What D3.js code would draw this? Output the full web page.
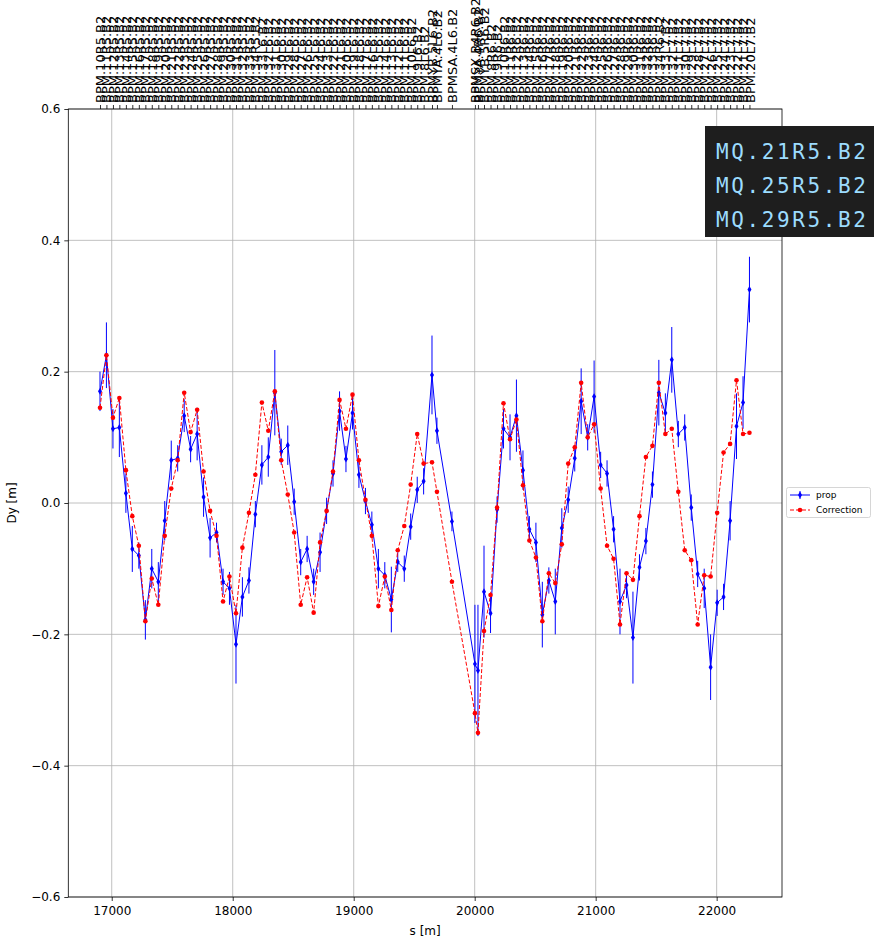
<!DOCTYPE html>
<html><head><meta charset="utf-8">
<script src="https://cdn.jsdelivr.net/npm/d3@7"></script>
<style>body{margin:0;background:#fff}svg{display:block}</style>
</head><body>
<script>
const bpmNames = [
"BPM.10R5.B2","BPM.11R5.B2","BPM.12R5.B2","BPM.13R5.B2","BPM.14R5.B2","BPM.15R5.B2","BPM.16R5.B2","BPM.17R5.B2","BPM.18R5.B2","BPM.19R5.B2",
"BPM.20R5.B2","BPM.21R5.B2","BPM.22R5.B2","BPM.23R5.B2","BPM.24R5.B2","BPM.25R5.B2","BPM.26R5.B2","BPM.27R5.B2","BPM.28R5.B2","BPM.29R5.B2",
"BPM.30R5.B2","BPM.31R5.B2","BPM.32R5.B2","BPM.33R5.B2","BPM.34R5.B2",
"BPM.33L6.B2","BPM.32L6.B2","BPM.31L6.B2","BPM.30L6.B2","BPM.29L6.B2","BPM.28L6.B2","BPM.27L6.B2","BPM.26L6.B2","BPM.25L6.B2","BPM.24L6.B2",
"BPM.23L6.B2","BPM.22L6.B2","BPM.21L6.B2","BPM.20L6.B2","BPM.19L6.B2","BPM.18L6.B2","BPM.17L6.B2","BPM.16L6.B2","BPM.15L6.B2","BPM.14L6.B2",
"BPM.13L6.B2","BPM.12L6.B2","BPM.11L6.B2","BPM.10L6.B2","BPM.9L6.B2","BPM.8L6.B2",
"BPMYB.5L6.B2","BPMYA.4L6.B2","BPMSA.4L6.B2","BPMSX.B4R6.B2","BPMYA.4R6.B2","BPMYB.5R6.B2",
"BPM.8R6.B2","BPM.9R6.B2","BPM.10R6.B2","BPM.11R6.B2","BPM.12R6.B2","BPM.13R6.B2","BPM.14R6.B2","BPM.15R6.B2","BPM.16R6.B2","BPM.17R6.B2",
"BPM.18R6.B2","BPM.19R6.B2","BPM.20R6.B2","BPM.21R6.B2","BPM.22R6.B2","BPM.23R6.B2","BPM.24R6.B2","BPM.25R6.B2","BPM.26R6.B2","BPM.27R6.B2",
"BPM.28R6.B2","BPM.29R6.B2","BPM.30R6.B2","BPM.31R6.B2","BPM.32R6.B2","BPM.33R6.B2","BPM.34R6.B2",
"BPM.33L7.B2","BPM.32L7.B2","BPM.31L7.B2","BPM.30L7.B2","BPM.29L7.B2","BPM.28L7.B2","BPM.27L7.B2","BPM.26L7.B2","BPM.25L7.B2","BPM.24L7.B2",
"BPM.23L7.B2","BPM.22L7.B2","BPM.21L7.B2","BPM.20L7.B2"];

const sPos = [
16903,16956,17010,17063,17117,17170,17224,17278,17331,17385,17438,17492,17545,17599,17652,17706,17759,17813,17866,17920,
17973,18027,18080,18134,18187,18241,18294,18348,18401,18455,18508,18562,18615,18669,18722,18776,18829,18883,18936,18990,
19043,19097,19150,19204,19257,19311,19364,19418,19471,19525,19578,
19647,19688,19812,20002,20027,20077,
20131,20185,20238,20292,20345,20399,20452,20506,20559,20613,20666,20720,20773,20827,20880,20934,20987,21041,21094,21148,
21201,21255,21308,21362,21415,21469,21522,21576,21629,21683,21736,21790,21843,21897,21950,22004,22057,22111,22164,22218,22271];

const propDy = [
0.17,0.225,0.113,0.115,0.015,-0.07,-0.08,-0.178,-0.10,-0.12,-0.027,0.065,0.068,0.133,0.082,0.105,0.009,-0.053,-0.045,-0.12,
-0.13,-0.215,-0.143,-0.118,-0.017,0.058,0.07,0.168,0.078,0.088,0.002,-0.09,-0.07,-0.12,-0.075,-0.012,0.045,0.14,0.067,0.137,
0.043,0.003,-0.033,-0.10,-0.11,-0.147,-0.09,-0.10,-0.036,0.02,0.033,
0.195,0.11,-0.028,-0.245,-0.255,-0.135,
-0.168,-0.01,0.113,0.10,0.133,0.05,-0.04,-0.06,-0.17,-0.118,-0.15,-0.038,0.005,0.068,0.155,0.10,0.162,0.058,0.045,-0.04,
-0.15,-0.125,-0.205,-0.098,-0.058,0.028,0.168,0.137,0.218,0.105,0.115,-0.007,-0.108,-0.13,-0.25,-0.152,-0.143,-0.027,0.117,0.153,0.325];

const propErr = [
0.03,0.05,0.03,0.045,0.03,0.035,0.02,0.03,0.03,0.03,0.03,0.03,0.02,0.025,0.02,0.04,0.03,0.03,0.015,0.02,
0.025,0.06,0.03,0.02,0.02,0.03,0.03,0.065,0.02,0.03,0.02,0.02,0.02,0.02,0.03,0.02,0.02,0.03,0.02,0.025,
0.02,0.02,0.02,0.03,0.02,0.05,0.015,0.02,0.02,0.02,0.02,
0.06,0.02,0.015,0.09,0.1,0.07,
0.03,0.02,0.03,0.035,0.055,0.03,0.02,0.03,0.05,0.02,0.05,0.03,0.02,0.02,0.05,0.02,0.055,0.02,0.02,0.02,
0.05,0.02,0.07,0.02,0.02,0.02,0.05,0.03,0.05,0.02,0.02,0.02,0.02,0.03,0.05,0.02,0.02,0.03,0.05,0.04,0.05];

const corrDy = [
0.145,0.225,0.13,0.16,0.05,-0.02,-0.065,-0.18,-0.115,-0.155,-0.05,0.022,0.065,0.168,0.108,0.142,0.048,-0.012,-0.05,-0.15,
-0.112,-0.168,-0.068,-0.015,0.043,0.153,0.11,0.17,0.065,0.013,-0.045,-0.155,-0.113,-0.167,-0.06,-0.012,0.048,0.157,0.113,0.165,
0.065,0.005,-0.05,-0.157,-0.112,-0.163,-0.072,-0.035,0.028,0.105,0.06,
0.062,0.017,-0.12,-0.32,-0.35,-0.195,
-0.14,-0.007,0.152,0.097,0.127,0.027,-0.057,-0.083,-0.18,-0.107,-0.122,-0.063,0.06,0.085,0.183,0.10,0.12,0.022,-0.065,-0.085,
-0.185,-0.107,-0.117,-0.02,0.07,0.087,0.183,0.105,0.113,0.017,-0.072,-0.087,-0.185,-0.11,-0.112,-0.015,0.077,0.09,0.187,0.105,0.107];

const xTicks = [17000,18000,19000,20000,21000,22000];
const yTicks = [-0.6,-0.4,-0.2,0.0,0.2,0.4,0.6];
const seriesNames = ["prop","Correction"];
const overlayLines = ["MQ.21R5.B2","MQ.25R5.B2","MQ.29R5.B2"];

const W=874,H=941;
const L=68.3,R=782,T=109,B=897;
const font="DejaVu Sans, sans-serif";
const svg=d3.select("body").append("svg").attr("width",W).attr("height",H);
const x=d3.scaleLinear().domain([16641,22540]).range([L,R]);
const y=d3.scaleLinear().domain([-0.6,0.6]).range([B,T]);

// grid
const g=svg.append("g");
g.selectAll("line.gx").data(xTicks).join("line").attr("x1",d=>x(d)).attr("x2",d=>x(d)).attr("y1",T).attr("y2",B)
 .attr("stroke","#b0b0b0").attr("stroke-width",0.8);
g.selectAll("line.gy").data(yTicks).join("line").attr("y1",d=>y(d)).attr("y2",d=>y(d)).attr("x1",L).attr("x2",R)
 .attr("stroke","#b0b0b0").attr("stroke-width",0.8);

// axes
const fmtY=d=>d3.format(".1f")(d).replace("-","\u2212");
const ax=svg.append("g").attr("transform",`translate(0,${B})`).call(d3.axisBottom(x).tickValues(xTicks).tickFormat(d3.format("d")).tickSize(4).tickPadding(5));
const ay=svg.append("g").attr("transform",`translate(${L},0)`).call(d3.axisLeft(y).tickValues(yTicks).tickFormat(fmtY).tickSize(4).tickPadding(4));
const at=svg.append("g").attr("transform",`translate(0,${T})`).call(d3.axisTop(x).tickValues(sPos).tickFormat((d,i)=>bpmNames[i]).tickSize(4).tickPadding(3));
[ax,ay,at].forEach(a=>{a.select(".domain").remove();a.selectAll("line").attr("stroke","#000").attr("stroke-width",0.8);
 a.selectAll("text").attr("font-family",font).attr("font-size",12).attr("fill","#000");});
at.selectAll("text").attr("font-size",13).attr("transform","rotate(-90)")
 .attr("text-anchor","start").attr("x",6).attr("y",0).attr("dy","0.35em");

// data clip
svg.append("clipPath").attr("id","c").append("rect").attr("x",L).attr("y",T).attr("width",R-L).attr("height",B-T);
const dg=svg.append("g").attr("clip-path","url(#c)");
const idx=d3.range(sPos.length);
// prop error bars
dg.selectAll("line.eb").data(idx).join("line").attr("x1",i=>x(sPos[i])).attr("x2",i=>x(sPos[i]))
 .attr("y1",i=>y(propDy[i]-propErr[i])).attr("y2",i=>y(propDy[i]+propErr[i])).attr("stroke","#0000ff").attr("stroke-width",1);
const line=(arr)=>d3.line().x(i=>x(sPos[i])).y(i=>y(arr[i]));
dg.append("path").attr("d",line(propDy)(idx)).attr("fill","none").attr("stroke","#0000ff").attr("stroke-width",1);
const diamond=d3.symbol().type(d3.symbolDiamond).size(14);
dg.selectAll("path.pm").data(idx).join("path").attr("d",diamond).attr("transform",i=>`translate(${x(sPos[i])},${y(propDy[i])})`).attr("fill","#0000ff");
dg.append("path").attr("d",line(corrDy)(idx)).attr("fill","none").attr("stroke","#ff0000").attr("stroke-width",1).attr("stroke-dasharray","4,2");
dg.selectAll("circle.cm").data(idx).join("circle").attr("cx",i=>x(sPos[i])).attr("cy",i=>y(corrDy[i])).attr("r",2.3).attr("fill","#ff0000");

// spines
svg.append("rect").attr("x",L).attr("y",T).attr("width",R-L).attr("height",B-T).attr("fill","none").attr("stroke","#000").attr("stroke-width",0.8);

// axis labels
svg.append("text").attr("x",(L+R)/2).attr("y",935).attr("text-anchor","middle").attr("font-family",font).attr("font-size",12).text("s [m]");
svg.append("text").attr("transform",`translate(16,${(T+B)/2}) rotate(-90)`).attr("text-anchor","middle").attr("font-family",font).attr("font-size",12).text("Dy [m]");

// legend
const lg=svg.append("g");
lg.append("rect").attr("x",786.5).attr("y",487.5).attr("width",84).attr("height",30).attr("rx",2).attr("fill","#fff").attr("stroke","#ccc").attr("stroke-width",0.8);
const ly=[495,510];
lg.append("line").attr("x1",790).attr("x2",810).attr("y1",ly[0]).attr("y2",ly[0]).attr("stroke","#0000ff").attr("stroke-width",1);
lg.append("line").attr("x1",800).attr("x2",800).attr("y1",ly[0]-4).attr("y2",ly[0]+4).attr("stroke","#0000ff").attr("stroke-width",1);
lg.append("path").attr("d",diamond).attr("transform",`translate(800,${ly[0]})`).attr("fill","#0000ff");
lg.append("line").attr("x1",790).attr("x2",810).attr("y1",ly[1]).attr("y2",ly[1]).attr("stroke","#ff0000").attr("stroke-width",1).attr("stroke-dasharray","4,2");
lg.append("circle").attr("cx",800).attr("cy",ly[1]).attr("r",2.3).attr("fill","#ff0000");
lg.selectAll("text").data(seriesNames).join("text").attr("x",816).attr("y",(d,i)=>ly[i]+3.3).attr("font-family",font).attr("font-size",9).text(d=>d);

// overlay box (screenshot artifact)
const ov=svg.append("g");
ov.append("rect").attr("x",705).attr("y",126).attr("width",W-705).attr("height",111).attr("fill","#1e1e1e");
ov.selectAll("text").data(overlayLines).join("text").attr("x",716).attr("y",(d,i)=>159+i*34)
 .attr("font-family","DejaVu Sans Mono, monospace").attr("font-size",21).attr("letter-spacing",2.6).attr("fill","#9cdcfe").text(d=>d);
</script>
</body></html>
